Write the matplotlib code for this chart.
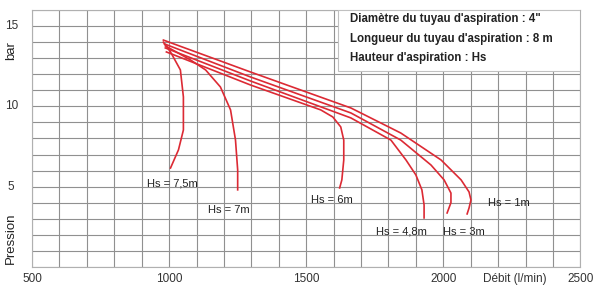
import numpy as np
import matplotlib.pyplot as plt
from matplotlib.patches import Rectangle

plt.rcParams['font.family'] = ['Liberation Sans', 'DejaVu Sans']

# courbes débit (l/min) / pression (bar) pour chaque hauteur d'aspiration
hs_labels = ["Hs = 1m", "Hs = 3m", "Hs = 4,8m", "Hs = 6m", "Hs = 7m", "Hs = 7,5m"]

q_1m = [979, 1297, 1663, 1845, 1992, 2065, 2094, 2101, 2094, 2087]
p_1m = [14.13, 12.14, 9.9, 8.34, 6.66, 5.42, 4.67, 4.17, 3.67, 3.3]

q_3m = [983, 1297, 1663, 1845, 1955, 2003, 2028, 2028, 2014]
p_3m = [13.89, 11.83, 9.59, 7.9, 6.35, 5.42, 4.6, 4.0, 3.36]

q_48m = [986, 1297, 1663, 1809, 1864, 1900, 1922, 1930, 1930]
p_48m = [13.64, 11.58, 9.28, 7.9, 6.66, 5.73, 4.8, 3.86, 3.05]

q_6m = [990, 1297, 1553, 1597, 1626, 1637, 1637, 1630, 1622]
p_6m = [13.39, 11.33, 9.78, 9.34, 8.72, 7.9, 6.66, 5.42, 4.92]

q_7m = [986, 1078, 1133, 1187, 1224, 1242, 1250, 1250]
p_7m = [13.77, 12.89, 12.27, 11.21, 9.78, 7.91, 6.04, 4.8]

q_75m = [979, 1005, 1041, 1052, 1052, 1034, 1005]
p_75m = [14.0, 13.39, 12.27, 10.59, 8.53, 7.29, 6.16]

curves = [(q_1m, p_1m), (q_3m, p_3m), (q_48m, p_48m),
          (q_6m, p_6m), (q_7m, p_7m), (q_75m, p_75m)]

# position des étiquettes (débit, pression)
label_pos = [(2163, 3.95), (1999, 2.2), (1754, 2.2), (1516, 4.15), (1143, 3.55), (920, 5.2)]

x_ticks = [500, 1000, 1500, 2000, 2500]
y_ticks = [5, 10, 15]

info = ["Diamètre du tuyau d'aspiration : 4\"",
        "Longueur du tuyau d'aspiration : 8 m",
        "Hauteur d'aspiration : Hs"]

fig = plt.figure(figsize=(5.94, 2.87), dpi=100)
ax = fig.add_axes([0.054, 0.07, 0.923, 0.895])

ax.set_xlim(500, 2500)
ax.set_ylim(0, 16)
ax.set_xticks(np.arange(500, 2501, 100))
ax.set_yticks(np.arange(0, 16.1, 1))
ax.grid(True, color='#909090', linewidth=0.8)
ax.set_axisbelow(True)
ax.tick_params(length=0, labelbottom=False, labelleft=False)
for s in ax.spines.values():
    s.set_color('#b0b0b0')
    s.set_linewidth(0.8)

# libellés des axes
for v in x_ticks:
    ax.text(v, -0.75, str(v), ha='center', va='center', fontsize=8.5, color='#333333')
ax.text(2262, -0.75, "Débit (l/min)", ha='center', va='center', fontsize=8.5, color='#333333')
for v in y_ticks:
    ax.text(-0.038, v, str(v), transform=ax.get_yaxis_transform(), ha='center', va='center',
            fontsize=8.5, color='#333333')
ax.text(-0.038, 0.2, "Pression", transform=ax.get_yaxis_transform(), rotation=90,
        ha='center', va='bottom', fontsize=9.5, color='#222222')
ax.text(-0.038, 13.45, "bar", transform=ax.get_yaxis_transform(), rotation=90,
        ha='center', va='center', fontsize=9.5, color='#222222')

# encadré d'information
ax.add_patch(Rectangle((1615, 12.2), 885, 3.8, facecolor='white', edgecolor='#c0c0c0',
                       linewidth=0.8, zorder=3))
info_y = [15.45, 14.2, 13.0]
for t, ty in zip(info, info_y):
    ax.text(1660, ty, t, ha='left', va='center', fontsize=8.3, fontweight='bold',
            color='#222222', zorder=4)

for (q, p), lab, (lx, ly) in zip(curves, hs_labels, label_pos):
    ax.plot(q, p, color='#dc2a34', linewidth=1.2, zorder=5)
    ax.text(lx, ly, lab, ha='left', va='center', fontsize=8, color='#222222', zorder=6)

fig.savefig("out.png", dpi=100)
